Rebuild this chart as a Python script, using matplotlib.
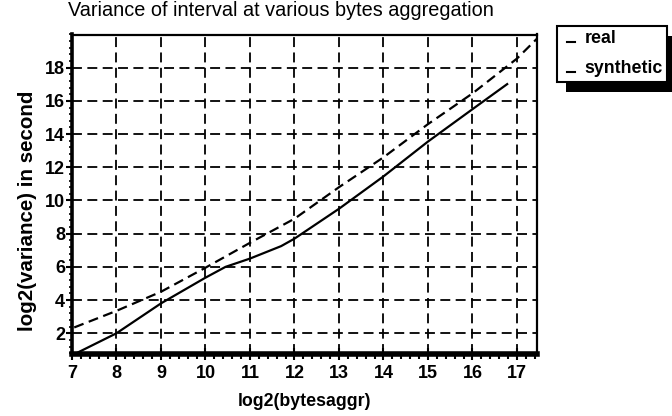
import matplotlib
matplotlib.use("Agg")
import matplotlib.pyplot as plt
from matplotlib.lines import Line2D
from matplotlib.patches import Rectangle
from matplotlib.ticker import MultipleLocator
from matplotlib.legend_handler import HandlerBase

# data
real_x = [7.1, 8.0, 9.0, 10.0, 10.45, 11.0, 11.7, 12.0, 13.0, 14.0, 15.0, 16.0, 16.8]
real_y = [0.8, 2.0, 3.8, 5.35, 6.0, 6.5, 7.25, 7.7, 9.5, 11.45, 13.55, 15.5, 17.05]
synth_x = [7.05, 8.0, 9.0, 10.0, 11.0, 12.0, 13.0, 14.0, 15.0, 16.0, 17.0, 17.45]
synth_y = [2.35, 3.35, 4.5, 5.95, 7.45, 8.9, 10.8, 12.6, 14.6, 16.45, 18.55, 19.75]
x_ticks = [7, 8, 9, 10, 11, 12, 13, 14, 15, 16, 17]
y_ticks = [2, 4, 6, 8, 10, 12, 14, 16, 18]
labels = ["real", "synthetic"]

plt.rcParams['font.family'] = ['Liberation Sans', 'DejaVu Sans']


class BaselineHandler(HandlerBase):
    def create_artists(self, legend, orig_handle, xdescent, ydescent,
                       width, height, fontsize, trans):
        y = -ydescent + 0.12 * height
        x0 = -xdescent + 0.34 * width
        x1 = -xdescent + 0.74 * width
        ln = Line2D([x0, x1], [y, y], color='black', lw=1.5, transform=trans)
        return [ln]


fig = plt.figure(figsize=(6.72, 4.16), dpi=100)
ax = fig.add_axes([72/672, 1-354/416, 465/672, (354-34.5)/416])

grid_kw = dict(color='black', lw=1.3, linestyle=(0, (5.5, 3)))
ax.set_axisbelow(True)
ax.grid(True, which='major', **grid_kw)

ax.plot(real_x, real_y, color='black', lw=1.6, solid_capstyle='butt')
ax.plot(synth_x, synth_y, color='black', lw=1.6, linestyle=(0, (4.5, 2.5)))

ax.set_xlim(7, 17.45)
ax.set_ylim(0.75, 20.0)
ax.set_xticks(x_ticks)
ax.set_yticks(y_ticks)
ax.xaxis.set_minor_locator(MultipleLocator(0.2))
ax.yaxis.set_minor_locator(MultipleLocator(0.4))

ax.tick_params(axis='x', which='major', direction='inout', length=8, width=1.5,
               labelsize=13, pad=4)
ax.tick_params(axis='x', which='minor', direction='out', length=3.5, width=1.5)
ax.tick_params(axis='y', which='major', direction='out', length=4, width=1.5,
               labelsize=13, pad=1)
ax.tick_params(axis='y', which='minor', direction='out', length=2.5, width=1.2)
for lab in ax.get_xticklabels() + ax.get_yticklabels():
    lab.set_fontweight('bold')

for side, w in [('left', 2.6), ('bottom', 4.0), ('top', 1.6), ('right', 1.6)]:
    ax.spines[side].set_linewidth(w)
    ax.spines[side].set_color('black')

ax.set_xlabel('log2(bytesaggr)', fontsize=12.8, fontweight='bold', labelpad=8)
ax.set_ylabel('log2(variance) in second', fontsize=14.8, fontweight='bold')
ax.yaxis.set_label_coords(-0.075, 0.448)
fig.text(68/672, 1-10.5/416, 'Variance of interval at various bytes aggregation',
         fontsize=14.3, ha='left', va='center')

handles = [Line2D([], [], color='black', lw=1.5),
           Line2D([], [], color='black', lw=1.5)]
leg = fig.legend(handles, labels, loc='upper left',
                 bbox_to_anchor=(557/672, 1-26/416), bbox_transform=fig.transFigure,
                 handler_map={Line2D: BaselineHandler()},
                 handlelength=1.0, handletextpad=0.3, borderpad=0.25,
                 labelspacing=0.72, borderaxespad=0, fancybox=False,
                 frameon=True, framealpha=1, facecolor='white',
                 prop={'size': 12.8, 'weight': 'bold'})
leg.get_frame().set_edgecolor('black')
leg.get_frame().set_linewidth(1.5)
leg.set_zorder(5)
fig.canvas.draw()
bb = leg.get_window_extent().transformed(fig.transFigure.inverted())
shadow = Rectangle((bb.x0 + 9/672, bb.y0 - 10/416), bb.width, bb.height,
                   transform=fig.transFigure, facecolor='black', edgecolor='none',
                   zorder=4)
fig.patches.append(shadow)

fig.savefig('out.png', dpi=100)
